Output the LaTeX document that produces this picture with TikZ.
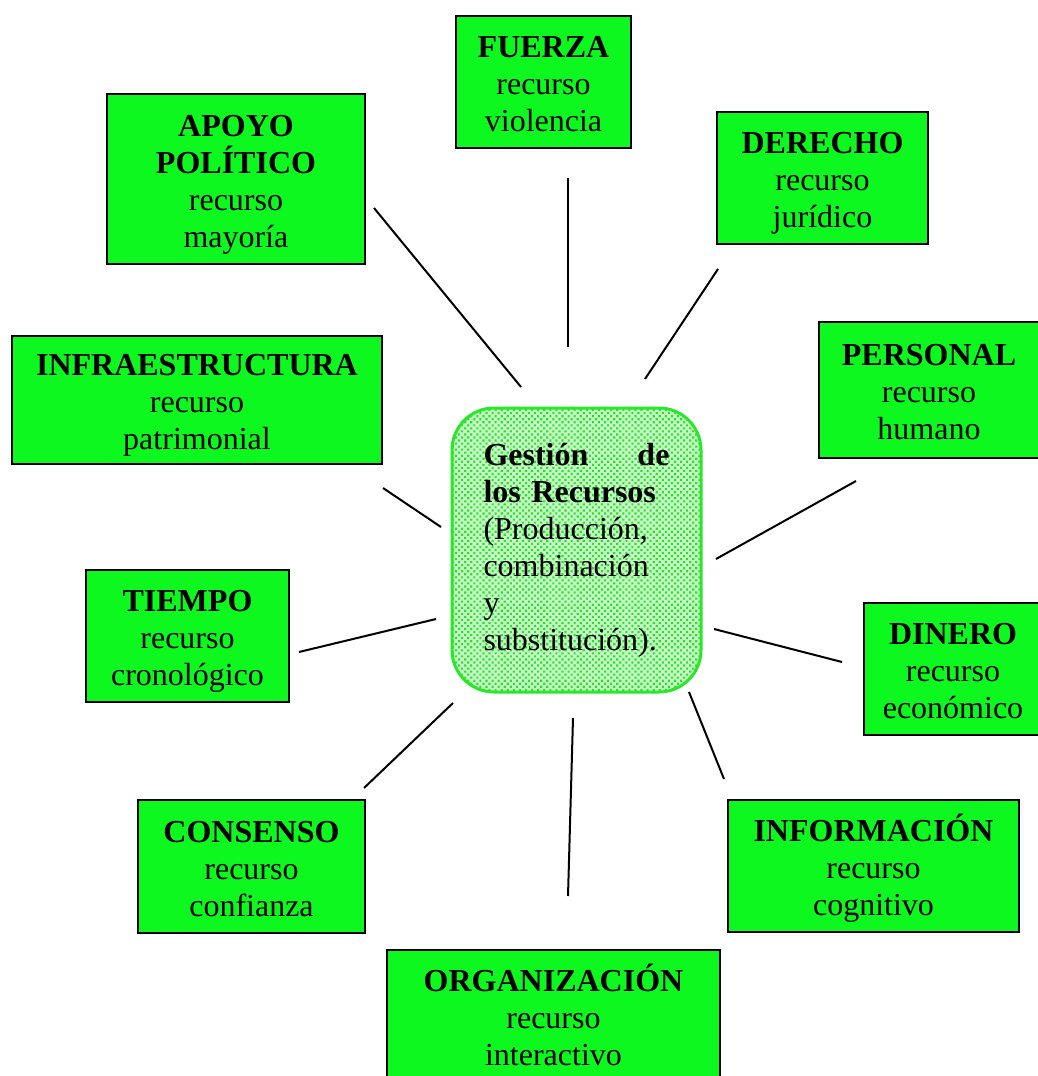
\documentclass[tikz,border=0pt]{standalone}
\usepackage{fontspec}
\setmainfont{Liberation Serif}
\usetikzlibrary{patterns.meta}
\definecolor{boxgreen}{RGB}{12,248,30}
\definecolor{centerfill}{RGB}{200,250,200}
\definecolor{centerdot}{RGB}{40,226,40}
\definecolor{centerline}{RGB}{40,232,40}
\newcommand\mytop{\rule{0pt}{36pt}}
\newcommand\mybot{\rule[-11pt]{0pt}{11pt}}
\tikzset{
  rbox/.style={draw=black, line width=2pt, fill=boxgreen, inner sep=0pt, align=center,
    font=\fontsize{32}{37}\selectfont},
  conn/.style={line width=2pt, black},
}
\begin{document}
\begin{tikzpicture}[x=1pt,y=-1pt]
\useasboundingbox (0,0) rectangle (1038,1076);
% boxes
\node[rbox, minimum width=175pt, minimum height=132pt] (fuerza) at (543.5,82) {\mytop\textbf{FUERZA}\\recurso\\violencia\mybot};
\node[rbox, minimum width=258pt, minimum height=170pt] (apoyo) at (236,179) {\mytop\textbf{APOYO}\\\textbf{POLÍTICO}\\recurso\\mayoría\mybot};
\node[rbox, minimum width=211pt, minimum height=132pt] (derecho) at (822.5,178) {\mytop\textbf{DERECHO}\\recurso\\jurídico\mybot};
\node[rbox, minimum width=370pt, minimum height=128pt] (infra) at (197,400) {\mytop\textbf{INFRAESTRUCTURA}\\recurso\\patrimonial\mybot};
\node[rbox, minimum width=220pt, minimum height=136pt] (personal) at (929,390) {\mytop\textbf{PERSONAL}\\recurso\\humano\mybot};
\node[rbox, minimum width=203pt, minimum height=132pt] (tiempo) at (187.5,636) {\mytop\textbf{TIEMPO}\\recurso\\cronológico\mybot};
\node[rbox, minimum width=178pt, minimum height=132pt] (dinero) at (953,669) {\mytop\textbf{DINERO}\\recurso\\económico\mybot};
\node[rbox, minimum width=227pt, minimum height=133pt] (consenso) at (251.5,866.5) {\mytop\textbf{CONSENSO}\\recurso\\confianza\mybot};
\node[rbox, minimum width=291pt, minimum height=132pt] (informacion) at (873.5,866) {\mytop\textbf{INFORMACIÓN}\\recurso\\cognitivo\mybot};
\node[rbox, minimum width=333pt, minimum height=132pt] (organizacion) at (553.5,1016) {\mytop\textbf{ORGANIZACIÓN}\\recurso\\interactivo\mybot};
% center
\node[draw=centerline, line width=3pt, rounded corners=42pt,
  minimum width=249pt, minimum height=284pt, inner sep=0pt,
  preaction={fill=centerfill},
  pattern={Dots[angle=45,distance=4.3pt,radius=1.5pt]}, pattern color=centerdot,
  text width=186pt, align=left, font=\fontsize{32}{37}\selectfont] (center) at (576.5,550)
  {\textbf{Gestión}\hfill\textbf{de}\\\textbf{los Recursos}\\(Producción,\\combinación\\y\\substitución).};
% connector end points
\coordinate (a1) at (374,208); \coordinate (a2) at (521,387);
\coordinate (f1) at (568,178); \coordinate (f2) at (568,347);
\coordinate (d1) at (718,269); \coordinate (d2) at (645,379);
\coordinate (i1) at (383,488); \coordinate (i2) at (441,527);
\coordinate (p1) at (856,481); \coordinate (p2) at (716,559);
\coordinate (t1) at (299,652); \coordinate (t2) at (436,619);
\coordinate (n1) at (842,662); \coordinate (n2) at (714,629);
\coordinate (c1) at (364,788); \coordinate (c2) at (453,703);
\coordinate (m1) at (724,779); \coordinate (m2) at (689,692);
\coordinate (o1) at (568,896); \coordinate (o2) at (573,718);
\draw[conn] (a1) -- (a2);
\draw[conn] (f1) -- (f2);
\draw[conn] (d1) -- (d2);
\draw[conn] (i1) -- (i2);
\draw[conn] (p1) -- (p2);
\draw[conn] (t1) -- (t2);
\draw[conn] (n1) -- (n2);
\draw[conn] (c1) -- (c2);
\draw[conn] (m1) -- (m2);
\draw[conn] (o1) -- (o2);
\end{tikzpicture}
\end{document}
